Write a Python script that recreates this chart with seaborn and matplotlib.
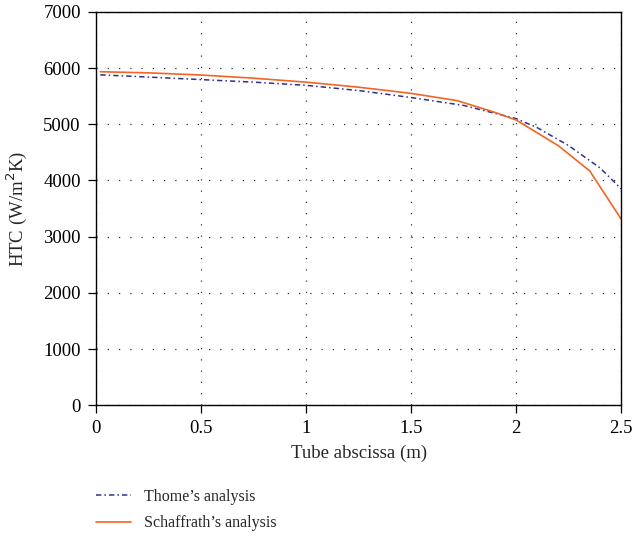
import pandas as pd
import seaborn as sns
import matplotlib.pyplot as plt

# values
thome_x = [0.02, 0.25, 0.5, 0.75, 1.0, 1.25, 1.5, 1.75, 2.0, 2.1, 2.25, 2.4, 2.5]
thome_y = [5880, 5840, 5795, 5750, 5693, 5600, 5476, 5335, 5100, 4940, 4620, 4220, 3850]
schaf_x = [0.02, 0.25, 0.5, 0.75, 1.0, 1.25, 1.5, 1.72, 1.9, 2.0, 2.2, 2.35, 2.5]
schaf_y = [5935, 5915, 5877, 5820, 5750, 5660, 5550, 5420, 5210, 5075, 4620, 4170, 3310]
labels = ["Thome\u2019s analysis", "Schaffrath\u2019s analysis"]

sns.set_style("white")
plt.rcParams['font.family'] = ['Liberation Serif', 'DejaVu Serif']

fig = plt.figure(figsize=(6.32, 5.41), dpi=100)
ax = fig.add_axes([0.152, 0.251, 0.831, 0.727])

dfT = pd.DataFrame({"x": thome_x, "y": thome_y})
dfS = pd.DataFrame({"x": schaf_x, "y": schaf_y})
sns.lineplot(data=dfT, x="x", y="y", ax=ax, color="#2e3192", lw=1.1,
             label=labels[0], linestyle=(0, (3.5, 2, 1, 2)))
sns.lineplot(data=dfS, x="x", y="y", ax=ax, color="#f26522", lw=1.2,
             label=labels[1])

ax.set_xlim(0, 2.5)
ax.set_ylim(0, 7000)
ax.set_xticks([0, 0.5, 1, 1.5, 2, 2.5])
ax.set_xticklabels(["0", "0.5", "1", "1.5", "2", "2.5"])
ax.set_yticks(range(0, 7001, 1000))
ax.grid(True, color="#333333", linestyle=(0, (1, 8)), lw=0.9)
for s in ax.spines.values():
    s.set_color("black")
    s.set_linewidth(1.0)
ax.tick_params(axis="both", direction="out", length=6, width=0.9, pad=5,
               colors="black", labelsize=13.5, left=True, bottom=True)
ax.set_xlabel("Tube abscissa (m)", fontsize=13.5, labelpad=5)
ax.set_ylabel("HTC (W/m$^2$K)", fontsize=13.5, labelpad=10)

h, l = ax.get_legend_handles_labels()
ax.legend_.remove()
fig.legend(h, l, loc="upper left", bbox_to_anchor=(0.142, 0.108), frameon=False,
           fontsize=11.5, handlelength=2.2, labelspacing=0.65, borderaxespad=0)

fig.savefig("out.png", dpi=100)
